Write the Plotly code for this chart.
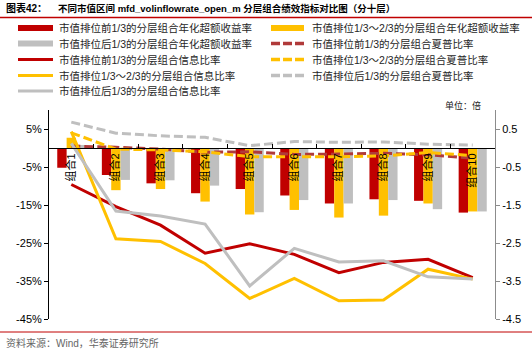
import plotly.graph_objects as go

categories = ["组合1", "组合2", "组合3", "组合4", "组合5", "组合6", "组合7", "组合8", "组合9", "组合10"]
# annualised excess return (%), left axis
ret_top = [-5.2, -7.1, -9.3, -11.9, -10.8, -12.5, -14.6, -13.5, -13.9, -17.0]
ret_mid = [2.7, -11.1, -10.8, -14.1, -17.5, -16.3, -18.3, -17.8, -14.6, -16.7]
ret_bot = [0.8, -8.4, -8.5, -9.9, -16.9, -13.7, -14.6, -13.7, -16.1, -16.7]
# information ratio, right axis
ir_top = [-0.96, -1.54, -2.03, -2.77, -2.52, -2.80, -3.28, -3.01, -2.93, -3.41]
ir_mid = [0.43, -2.39, -2.46, -3.04, -3.96, -3.43, -4.02, -4.00, -3.19, -3.45]
ir_bot = [0.12, -1.66, -1.79, -2.00, -3.63, -2.64, -3.00, -2.97, -3.39, -3.45]
# sharpe ratio, right axis
sr_top = [0.05, 0.02, -0.03, -0.11, -0.10, -0.17, -0.16, -0.14, -0.18, -0.27]
sr_mid = [0.40, -0.03, -0.05, -0.10, -0.23, -0.23, -0.23, -0.21, -0.12, -0.20]
sr_bot = [0.68, 0.39, 0.32, 0.28, 0.06, 0.17, 0.15, 0.16, 0.10, 0.08]

left_ticks = [5, -5, -15, -25, -35, -45]
right_ticks = [0.5, -0.5, -1.5, -2.5, -3.5, -4.5]

RED = "#C00000"
YEL = "#FFC000"
GRY = "#BFBFBF"
RED_D = "#B03A3A"
DASH = "9px,4px"
TXT_FONT = "Liberation Sans, Noto Sans CJK SC"

names = {
    "rt": "市值排位前1/3的分层组合年化超额收益率",
    "rm": "市值排位1/3～2/3的分层组合年化超额收益率",
    "rb": "市值排位后1/3的分层组合年化超额收益率",
    "st": "市值排位前1/3的分层组合夏普比率",
    "it": "市值排位前1/3的分层组合信息比率",
    "sm": "市值排位1/3～2/3的分层组合夏普比率",
    "im": "市值排位1/3～2/3的分层组合信息比率",
    "sb": "市值排位后1/3的分层组合夏普比率",
    "ib": "市值排位后1/3的分层组合信息比率",
}

W, H = 532, 355
L, R, T, B = 49, 37, 110, 36
PW, PH = W - L - R, H - T - B


def px_x(p):
    return (p - L) / PW


def px_y(p):
    return (H - B - p) / PH


fig = go.Figure()

for key, vals, col in [("rt", ret_top, RED), ("rm", ret_mid, YEL), ("rb", ret_bot, GRY)]:
    fig.add_trace(go.Bar(x=categories, y=vals, marker=dict(color=col, line=dict(width=0)),
                         name=names[key], showlegend=False))

for key, vals, col, dash in [
    ("st", sr_top, RED_D, DASH),
    ("sm", sr_mid, YEL, DASH),
    ("sb", sr_bot, GRY, DASH),
    ("it", ir_top, RED, "solid"),
    ("im", ir_mid, YEL, "solid"),
    ("ib", ir_bot, GRY, "solid"),
]:
    fig.add_trace(go.Scatter(x=categories, y=vals, yaxis="y2", mode="lines", name=names[key],
                             line=dict(color=col, width=3, dash=dash), showlegend=False))

fig.update_layout(
    width=W, height=H,
    margin=dict(l=L, r=R, t=T, b=B, autoexpand=False),
    paper_bgcolor="white", plot_bgcolor="white",
    barmode="group", bargap=0.37, bargroupgap=0,
    font=dict(family="Liberation Sans, Arial", size=11, color="#000000"),
    showlegend=False,
    xaxis=dict(type="category", anchor="free", position=45 / 55, automargin=False,
               showline=True, linecolor="#000000", linewidth=1,
               ticks="inside", ticklen=4, tickcolor="#000000", tickson="boundaries",
               tickangle=-90, tickfont=dict(family=TXT_FONT, size=11, color="#000000"),
               showgrid=False, zeroline=False),
    yaxis=dict(range=[-45, 10], tickvals=left_ticks, automargin=False,
               ticktext=[f"{v}%" for v in left_ticks],
               showline=True, linecolor="#000000", linewidth=1,
               ticks="outside", ticklen=4, tickcolor="#000000",
               showgrid=False, zeroline=False,
               tickfont=dict(family="Liberation Sans, Arial", size=11, color="#000000")),
    yaxis2=dict(range=[-4.5, 1.0], tickvals=right_ticks, automargin=False,
                ticktext=[f"{v:.1f}" for v in right_ticks],
                overlaying="y", side="right", anchor="x",
                showline=True, linecolor="#8C8C8C", linewidth=1,
                ticks="outside", ticklen=4, tickcolor="#8C8C8C",
                showgrid=False, zeroline=False,
                tickfont=dict(family="Liberation Sans, Arial", size=11, color="#000000")),
)

# legend drawn as keys + labels in two columns
rows_y = [28, 43.5, 59.5, 75.5, 91]
leg_left = [("rt", RED, "bar"), ("rb", GRY, "bar"), ("it", RED, "solid"), ("im", YEL, "solid"), ("ib", GRY, "solid")]
leg_right = [("rm", YEL, "bar"), ("st", RED_D, "dash"), ("sm", YEL, "dash"), ("sb", GRY, "dash")]
for col_items, sx0, sx1, tx in [(leg_left, 18, 53, 57), (leg_right, 271, 304, 310)]:
    for (key, col, kind), yy in zip(col_items, rows_y):
        if kind == "bar":
            ln = dict(color=col, width=6)
        elif kind == "solid":
            ln = dict(color=col, width=3)
        else:
            ln = dict(color=col, width=3.5, dash="9px,3px")
        fig.add_shape(type="line", xref="paper", yref="paper",
                      x0=px_x(sx0), x1=px_x(sx1), y0=px_y(yy), y1=px_y(yy), line=ln)
        fig.add_annotation(xref="paper", yref="paper", x=px_x(tx), y=px_y(yy),
                           xanchor="left", yanchor="middle", text=names[key], showarrow=False,
                           font=dict(family=TXT_FONT, size=10.5, color="#262626"))

# title, unit, source
fig.add_annotation(xref="paper", yref="paper", x=px_x(4), y=px_y(8.5), xanchor="left", yanchor="middle",
                   text="<b>图表42：</b>", showarrow=False,
                   font=dict(family=TXT_FONT, size=10, color="#000000"))
fig.add_annotation(xref="paper", yref="paper", x=px_x(56), y=px_y(8.5), xanchor="left", yanchor="middle",
                   text="<b>不同市值区间 mfd_volinflowrate_open_m 分层组合绩效指标对比图（分十层）</b>",
                   showarrow=False, font=dict(family=TXT_FONT, size=9.5, color="#000000"))
fig.add_annotation(xref="paper", yref="paper", x=px_x(483), y=px_y(105), xanchor="right", yanchor="middle",
                   text="单位：倍", showarrow=False,
                   font=dict(family=TXT_FONT, size=9, color="#222222"))
fig.add_annotation(xref="paper", yref="paper", x=px_x(4), y=px_y(343), xanchor="left", yanchor="middle",
                   text="资料来源：Wind，华泰证券研究所", showarrow=False,
                   font=dict(family=TXT_FONT, size=10, color="#666666"))

fig.add_shape(type="line", xref="paper", yref="paper", x0=px_x(0), x1=px_x(532), y0=px_y(17.5), y1=px_y(17.5),
              line=dict(color="#C00000", width=1.5))
fig.add_shape(type="line", xref="paper", yref="paper", x0=px_x(0), x1=px_x(532), y0=px_y(332), y1=px_y(332),
              line=dict(color="#C00000", width=1))

fig.write_html("out.html", config={"displayModeBar": False},
               post_script="document.body.style.margin='0';document.body.style.overflow='hidden';")
